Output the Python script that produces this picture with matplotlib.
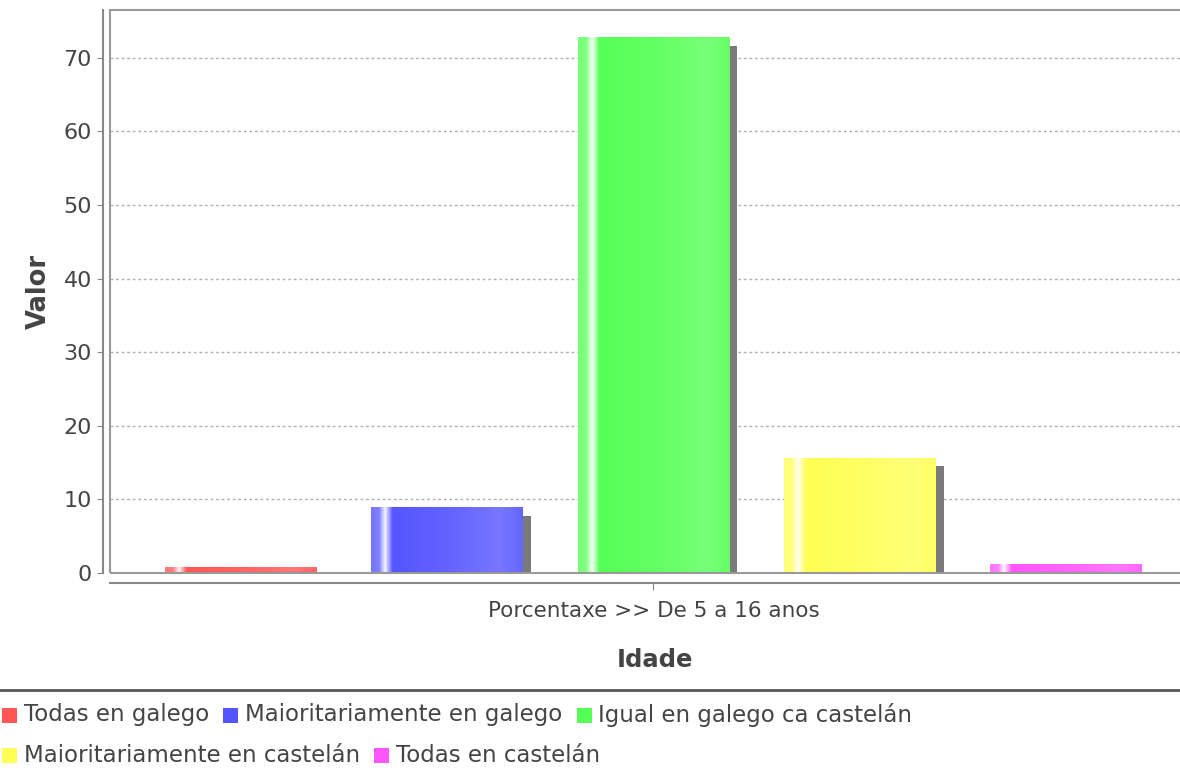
import matplotlib.pyplot as plt
import numpy as np
from matplotlib.colors import LinearSegmentedColormap, to_rgb
from matplotlib.patches import Rectangle

series = ["Todas en galego", "Maioritariamente en galego", "Igual en galego ca castelán",
          "Maioritariamente en castelán", "Todas en castelán"]
values = [0.8, 8.9, 72.7, 15.6, 1.2]
colors = ["#ff5555", "#5555ff", "#55ff55", "#ffff55", "#ff55ff"]
category = "Porcentaxe >> De 5 a 16 anos"

plt.rcParams['font.family'] = ['DejaVu Sans']
txt = "#444444"

fig = plt.figure(figsize=(11.8, 7.77), dpi=100)
W, H = 1180, 777
ax = fig.add_axes([110 / W, 1 - 573 / H, 1090 / W, 563 / H])

def lighten(c, f):
    r = np.array(to_rgb(c))
    return tuple(r + (1 - r) * f)

width = 0.736
pos = np.arange(len(values))
for x, v, c in zip(pos, values, colors):
    # shadow
    ax.bar(x + 0.039, max(v - 1.1, 0), width=width, color="#7a7a7a", zorder=2)
    cmap = LinearSegmentedColormap.from_list("g", [
        (0.0, lighten(c, 0.2)), (0.05, lighten(c, 0.25)), (0.09, lighten(c, 0.95)),
        (0.14, c), (0.5, lighten(c, 0.08)), (0.85, lighten(c, 0.2)), (1.0, lighten(c, 0.1))])
    grad = np.linspace(0, 1, 200).reshape(1, -1)
    ax.imshow(grad, cmap=cmap, extent=(x - width / 2, x + width / 2, 0, v),
              aspect='auto', zorder=3, interpolation='bilinear')

ax.set_xlim(-0.634, 4.552 + 20 / 206.5)
ax.set_ylim(0, 76.5)
ax.set_yticks(range(0, 71, 10))
ax.yaxis.grid(True, color="#b0b0b0", linestyle=(0, (2, 2)), linewidth=1)
ax.axhline(0, color="#555555", linestyle=(0, (2, 2)), linewidth=1.2, zorder=4)
ax.set_axisbelow(True)

ax.set_xticks([2])
ax.set_xticklabels([category])
ax.tick_params(axis='x', length=5, color="#888888", labelsize=15.5, labelcolor=txt, pad=8)
ax.tick_params(axis='y', length=4, color="#888888", labelsize=16, labelcolor=txt, pad=4)

for s in ["top", "right"]:
    ax.spines[s].set_visible(False)
ax.spines["left"].set_position(("outward", 5))
ax.spines["bottom"].set_position(("outward", 7.5))
ax.spines["left"].set_color("#888888")
ax.spines["bottom"].set_color("#888888")
ax.spines["left"].set_linewidth(1.5)
ax.spines["bottom"].set_linewidth(1.5)
ax.add_patch(Rectangle((0, 0), 1.2, 1, transform=ax.transAxes, fill=False,
                       edgecolor="#999999", linewidth=1.5, clip_on=False, zorder=5))

ax.set_ylabel("Valor", fontsize=18.5, fontweight='bold', color=txt, labelpad=8)
ax.set_xlabel("Idade", fontsize=17.5, fontweight='bold', color=txt, labelpad=19)

# legend separator
fig.add_artist(plt.Line2D([0, 1], [1 - 690 / H, 1 - 690 / H], color="#555555", linewidth=2))

# legend rows
rows = [[0, 1, 2], [3, 4]]
row_y = [715, 755]
fig.canvas.draw()
r = fig.canvas.get_renderer()
for idx, yy in zip(rows, row_y):
    xx = 2
    for i in idx:
        fig.add_artist(Rectangle((xx / W, 1 - (yy + 8) / H), 15 / W, 15 / H,
                                 transform=fig.transFigure, facecolor=colors[i], edgecolor='none'))
        t = fig.text((xx + 22) / W, 1 - yy / H, series[i], fontsize=16.5, color=txt,
                     va='center', ha='left')
        bb = t.get_window_extent(renderer=r)
        xx = bb.x1 + 14

fig.savefig("out.png", dpi=100)
